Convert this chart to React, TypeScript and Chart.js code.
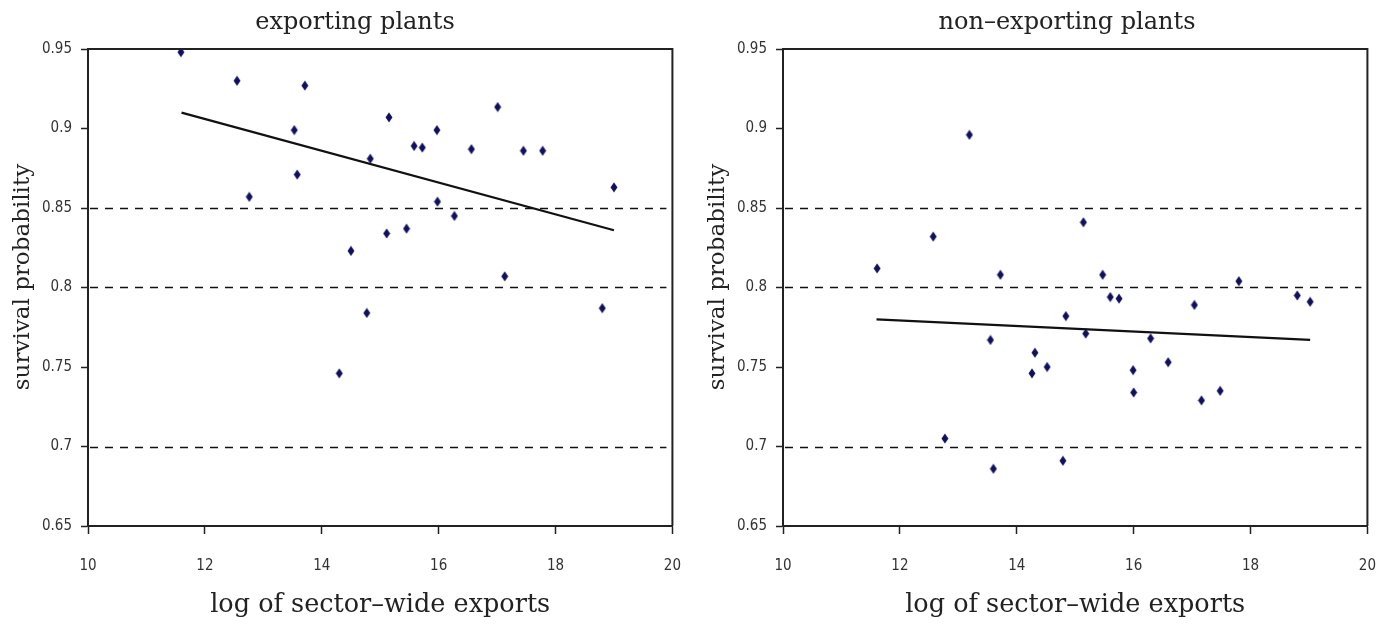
import React, { useEffect, useRef } from "react";
import { Chart, registerables } from "chart.js";

Chart.register(...registerables);

// ---- data ----
const exportingX = [11.59, 12.55, 13.71, 13.53, 12.76, 13.58, 15.15, 14.83, 14.5, 15.11, 17.01, 15.97, 15.58, 15.72, 16.56, 17.45, 17.78, 19.0, 15.98, 16.27, 15.45, 17.13, 14.3, 14.77, 18.8];
const exportingY = [0.948, 0.93, 0.927, 0.899, 0.857, 0.871, 0.907, 0.881, 0.823, 0.834, 0.9135, 0.899, 0.889, 0.888, 0.887, 0.886, 0.886, 0.863, 0.854, 0.845, 0.837, 0.807, 0.746, 0.784, 0.787];
const exportingFitX = [11.6, 19.0];
const exportingFitY = [0.91, 0.836];

const nonExportingX = [13.19, 15.14, 12.57, 11.61, 13.72, 14.84, 15.18, 13.55, 14.31, 14.52, 14.26, 15.47, 15.6, 15.75, 17.04, 17.8, 18.8, 19.02, 16.29, 16.59, 15.99, 16.0, 12.77, 13.6, 14.79, 17.16, 17.48];
const nonExportingY = [0.896, 0.841, 0.832, 0.812, 0.808, 0.782, 0.771, 0.767, 0.759, 0.75, 0.746, 0.808, 0.794, 0.793, 0.789, 0.804, 0.795, 0.791, 0.768, 0.753, 0.748, 0.734, 0.705, 0.686, 0.691, 0.729, 0.735];
const nonExportingFitX = [11.6, 19.02];
const nonExportingFitY = [0.78, 0.767];

const panelTitles = ["exporting plants", "non\u2013exporting plants"];
const xAxisTitle = "log of sector\u2013wide exports";
const yAxisTitle = "survival probability";
const xTicks = [10, 12, 14, 16, 18, 20];
const yTicks = [0.65, 0.7, 0.75, 0.8, 0.85, 0.9, 0.95];
const dashedLevels = [0.7, 0.8, 0.85];

const SERIF = "'DejaVu Serif', serif";
const NARROW = "'Liberation Sans Narrow', 'DejaVu Sans Condensed', sans-serif";

function makeDiamond(): HTMLCanvasElement {
  const c = document.createElement("canvas");
  c.width = 8;
  c.height = 11;
  const ctx = c.getContext("2d")!;
  ctx.fillStyle = "#10105e";
  ctx.beginPath();
  ctx.moveTo(4, 0.5);
  ctx.lineTo(7.5, 5.5);
  ctx.lineTo(4, 10.5);
  ctx.lineTo(0.5, 5.5);
  ctx.closePath();
  ctx.fill();
  return c;
}

type PanelProps = {
  xs: number[];
  ys: number[];
  fitX: number[];
  fitY: number[];
  title: string;
  titleCenter: number;
  left: number;
};

const CANVAS_W = 704;
const CANVAS_H = 624;

function Panel({ xs, ys, fitX, fitY, title, titleCenter, left }: PanelProps) {
  const ref = useRef<HTMLCanvasElement>(null);
  useEffect(() => {
    if (!ref.current) return;
    const diamond = makeDiamond();
    const framePlugin = {
      id: "frame",
      beforeDatasetsDraw(chart: any) {
        const { ctx, chartArea, scales } = chart;
        ctx.save();
        ctx.strokeStyle = "#111";
        ctx.lineWidth = 1.5;
        ctx.setLineDash([8, 7]);
        dashedLevels.forEach((v) => {
          const y = Math.round(scales.y.getPixelForValue(v)) + 0.5;
          ctx.beginPath();
          ctx.moveTo(chartArea.left + 2, y);
          ctx.lineTo(chartArea.right - 6, y);
          ctx.stroke();
        });
        ctx.restore();
      },
      afterDraw(chart: any) {
        const { ctx, chartArea } = chart;
        ctx.save();
        ctx.strokeStyle = "#222";
        ctx.lineWidth = 2;
        ctx.beginPath();
        ctx.moveTo(chartArea.left, chartArea.top);
        ctx.lineTo(chartArea.right, chartArea.top);
        ctx.lineTo(chartArea.right, chartArea.bottom);
        ctx.stroke();
        ctx.fillStyle = "#222";
        ctx.font = `24px ${SERIF}`;
        ctx.textAlign = "center";
        ctx.textBaseline = "alphabetic";
        ctx.fillText(title, titleCenter, 29);
        // y-axis title
        ctx.save();
        ctx.translate(23, 277);
        ctx.rotate(-Math.PI / 2);
        ctx.font = `23px ${SERIF}`;
        ctx.textBaseline = "middle";
        ctx.fillText(yAxisTitle, 0, 0);
        ctx.restore();
        ctx.restore();
      },
    };
    const chart = new Chart(ref.current, {
      type: "scatter",
      data: {
        datasets: [
          {
            type: "line",
            data: fitX.map((x, i) => ({ x, y: fitY[i] })),
            borderColor: "#111",
            borderWidth: 2.2,
            pointRadius: 0,
            fill: false,
            tension: 0,
          } as any,
          {
            data: xs.map((x, i) => ({ x, y: ys[i] })),
            pointStyle: diamond,
            pointRadius: 4,
            backgroundColor: "#10105e",
            borderColor: "#10105e",
          } as any,
        ],
      },
      options: {
        animation: false,
        responsive: false,
        devicePixelRatio: 1,
        layout: { padding: { top: 49, right: 14, bottom: 0, left: 0 } },
        plugins: {
          legend: { display: false },
          tooltip: { enabled: false },
          title: { display: false },
        },
        scales: {
          x: {
            type: "linear",
            min: xTicks[0],
            max: xTicks[xTicks.length - 1],
            afterBuildTicks: (s: any) => {
              s.ticks = xTicks.map((v) => ({ value: v }));
            },
            afterFit: (s: any) => {
              s.height = 98;
            },
            ticks: {
              color: "#333",
              font: { family: NARROW, size: 15 },
              padding: 23,
              callback: (v: any) => String(v),
            },
            grid: {
              drawOnChartArea: false,
              drawTicks: true,
              tickLength: 8,
              tickColor: "#222",
              tickWidth: 1.5,
            },
            border: { display: true, color: "#222", width: 2 },
            title: {
              display: true,
              text: xAxisTitle,
              color: "#222",
              font: { family: SERIF, size: 25.5 },
              padding: { top: 0, bottom: 3 },
            },
          },
          y: {
            type: "linear",
            min: yTicks[0],
            max: yTicks[yTicks.length - 1],
            afterBuildTicks: (s: any) => {
              s.ticks = yTicks.map((v) => ({ value: v }));
            },
            afterFit: (s: any) => {
              s.width = 88;
            },
            ticks: {
              color: "#333",
              font: { family: NARROW, size: 15 },
              padding: 9,
              callback: (v: any) => String(Number(Number(v).toFixed(2))),
            },
            grid: {
              drawOnChartArea: false,
              drawTicks: true,
              tickLength: 7,
              tickColor: "#222",
              tickWidth: 1.5,
            },
            border: { display: true, color: "#222", width: 2 },
            title: { display: false },
          },
        },
      },
      plugins: [framePlugin],
    } as any);
    return () => chart.destroy();
  }, [xs, ys, fitX, fitY, title, titleCenter]);

  return (
    <div style={{ position: "absolute", left, top: 0, width: CANVAS_W, height: CANVAS_H }}>
      <canvas ref={ref} width={CANVAS_W} height={CANVAS_H} style={{ width: CANVAS_W, height: CANVAS_H, display: "block" }} />
    </div>
  );
}

export default function App() {
  return (
    <div
      style={{
        position: "fixed",
        left: 0,
        top: 0,
        width: 1391,
        height: 624,
        background: "#fff",
        overflow: "hidden",
      }}
    >
      <Panel xs={exportingX} ys={exportingY} fitX={exportingFitX} fitY={exportingFitY} title={panelTitles[0]} titleCenter={355} left={0} />
      <Panel xs={nonExportingX} ys={nonExportingY} fitX={nonExportingFitX} fitY={nonExportingFitY} title={panelTitles[1]} titleCenter={372} left={695} />
    </div>
  );
}
